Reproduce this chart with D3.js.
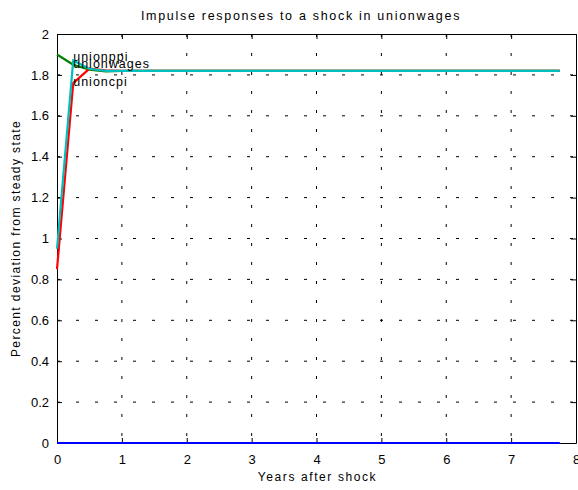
<!DOCTYPE html>
<html>
<head>
<meta charset="utf-8">
<script src="https://cdn.jsdelivr.net/npm/d3@7"></script>
<style>
  body { margin: 0; background: #fff; }
  text { font-family: "Liberation Sans", Arial, sans-serif; fill: #000; }
</style>
</head>
<body>
<div id="chart"></div>
<script>
// quarters after the shock
var years = [0, 0.25, 0.5, 0.75, 1, 1.25, 1.5, 1.75, 2, 2.25, 2.5, 2.75, 3, 3.25, 3.5, 3.75,
             4, 4.25, 4.5, 4.75, 5, 5.25, 5.5, 5.75, 6, 6.25, 6.5, 6.75, 7, 7.25, 7.5, 7.75];

var zeroSeries = [0, 0, 0, 0, 0, 0, 0, 0, 0, 0, 0, 0, 0, 0, 0, 0,
                  0, 0, 0, 0, 0, 0, 0, 0, 0, 0, 0, 0, 0, 0, 0, 0];
var unionppi = [1.90, 1.85, 1.825, 1.817, 1.819, 1.82, 1.82, 1.82, 1.82, 1.82, 1.82, 1.82, 1.82, 1.82, 1.82, 1.82,
                1.82, 1.82, 1.82, 1.82, 1.82, 1.82, 1.82, 1.82, 1.82, 1.82, 1.82, 1.82, 1.82, 1.82, 1.82, 1.82];
var unioncpi = [0.85, 1.76, 1.83, 1.822, 1.82, 1.82, 1.82, 1.82, 1.82, 1.82, 1.82, 1.82, 1.82, 1.82, 1.82, 1.82,
                1.82, 1.82, 1.82, 1.82, 1.82, 1.82, 1.82, 1.82, 1.82, 1.82, 1.82, 1.82, 1.82, 1.82, 1.82, 1.82];
var unionwages = [0.95, 1.87, 1.83, 1.82, 1.82, 1.82, 1.82, 1.82, 1.82, 1.82, 1.82, 1.82, 1.82, 1.82, 1.82, 1.82,
                  1.82, 1.82, 1.82, 1.82, 1.82, 1.82, 1.82, 1.82, 1.82, 1.82, 1.82, 1.82, 1.82, 1.82, 1.82, 1.82];

var xTicks = [0, 1, 2, 3, 4, 5, 6, 7, 8];
var yTicks = [0, 0.2, 0.4, 0.6, 0.8, 1, 1.2, 1.4, 1.6, 1.8, 2];

// text labels placed next to the lines (x in years, y in percent)
var labelNames = ["unionppi", "unionwages", "unioncpi"];
var labelX = [0.25, 0.25, 0.25];
var labelY = [1.89, 1.853, 1.767];

var margin = {top: 34, right: 2, bottom: 47, left: 57},
    width = 578 - margin.left - margin.right,
    height = 490 - margin.top - margin.bottom;

var svg = d3.select("#chart")
  .append("svg")
  .attr("width", 578)
  .attr("height", 490)
  .append("g")
  .attr("transform", "translate(" + margin.left + "," + margin.top + ")");

var xScale = d3.scaleLinear().domain([0, 8]).range([0, width]);
var yScale = d3.scaleLinear().domain([0, 2]).range([height, 0]);

// grid (dotted, matlab style)
svg.append("g")
  .selectAll("line")
  .data(xTicks.slice(1, -1))
  .join("line")
  .attr("x1", d => xScale(d)).attr("x2", d => xScale(d))
  .attr("y1", 0).attr("y2", height)
  .attr("stroke", "#000").attr("stroke-width", 1)
  .attr("stroke-dasharray", "3,16");

svg.append("g")
  .selectAll("line")
  .data(yTicks.slice(1, -1))
  .join("line")
  .attr("x1", 0).attr("x2", width)
  .attr("y1", d => yScale(d)).attr("y2", d => yScale(d))
  .attr("stroke", "#000").attr("stroke-width", 1)
  .attr("stroke-dasharray", "3,16");

// axes with inward ticks
var xAxis = svg.append("g")
  .attr("transform", "translate(0," + height + ")")
  .call(d3.axisBottom(xScale).tickValues(xTicks).tickSizeInner(-5).tickSizeOuter(0).tickPadding(12));
var xAxisTop = svg.append("g")
  .call(d3.axisTop(xScale).tickValues(xTicks).tickSizeInner(-5).tickSizeOuter(0).tickFormat(""));
var yAxis = svg.append("g")
  .call(d3.axisLeft(yScale).tickValues(yTicks).tickSizeInner(-5).tickSizeOuter(0).tickPadding(8)
    .tickFormat(d3.format("~g")));
var yAxisRight = svg.append("g")
  .attr("transform", "translate(" + width + ",0)")
  .call(d3.axisRight(yScale).tickValues(yTicks).tickSizeInner(-5).tickSizeOuter(0).tickFormat(""));

[xAxis, xAxisTop, yAxis, yAxisRight].forEach(function(a) {
  a.select(".domain").attr("stroke", "#000").attr("stroke-width", 1);
  a.selectAll("text").style("font-size", "13px").attr("fill", "#000");
});

// lines
var line = d3.line()
  .x((d, i) => xScale(years[i]))
  .y(d => yScale(d));

var seriesList = [
  {values: zeroSeries, color: "#0000ff"},
  {values: unionppi, color: "#008000"},
  {values: unioncpi, color: "#ff0000"},
  {values: unionwages, color: "#00bfbf"}
];

seriesList.forEach(function(s) {
  svg.append("path")
    .datum(s.values)
    .attr("fill", "none")
    .attr("stroke", s.color)
    .attr("stroke-width", 2.2)
    .attr("d", line);
});

// line labels
svg.append("g")
  .selectAll("text")
  .data(labelNames)
  .join("text")
  .attr("x", (d, i) => xScale(labelX[i]))
  .attr("y", (d, i) => yScale(labelY[i]))
  .attr("dy", "0.35em")
  .style("font-size", "12.5px")
  .style("letter-spacing", "1px")
  .text(d => d);

// titles
svg.append("text")
  .attr("x", 244)
  .attr("y", -14)
  .attr("text-anchor", "middle")
  .style("font-size", "12.5px")
  .style("letter-spacing", "1.7px")
  .text("Impulse responses to a shock in unionwages");

svg.append("text")
  .attr("x", width / 2 + 1)
  .attr("y", height + 38)
  .attr("text-anchor", "middle")
  .style("font-size", "12px")
  .style("letter-spacing", "1.6px")
  .text("Years after shock");

svg.append("text")
  .attr("transform", "rotate(-90)")
  .attr("x", -height / 2)
  .attr("y", -37)
  .attr("text-anchor", "middle")
  .style("font-size", "12px")
  .style("letter-spacing", "1.4px")
  .text("Percent deviation from steady state");
</script>
</body>
</html>
